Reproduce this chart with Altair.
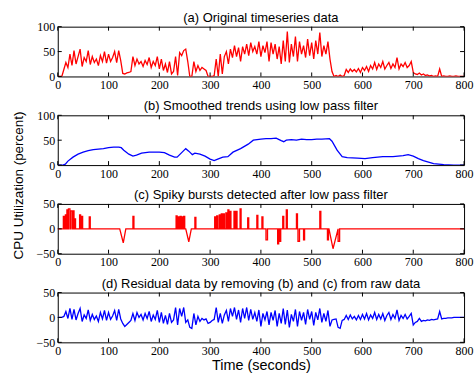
import altair as alt
import pandas as pd

# ---------------- data ----------------
# (a) raw CPU utilisation, one reading every 4 s from 0 to 800 s
a_step = 4
a_values = [
    0, 0, 0, 14, 28, 18, 45, 22, 52, 25, 40, 55, 20, 38, 30, 52, 24, 40, 28, 35, 22, 42, 30, 50, 27,
    45, 30, 38, 50, 28, 52, 32, 6, 5, 7, 8, 10, 40, 22, 35, 25, 30, 20, 32, 24, 38, 18, 30, 22, 40,
    15, 35, 12, 25, 8, 30, 5, 10, 40, 2, 48, 42, 52, 55, 30, 0, 0, 30, 10, 22, 12, 18, 15, 12, 0,
    0, 0, 2, 35, 0, 45, 5, 40, 50, 25, 55, 38, 62, 40, 58, 30, 60, 45, 65, 42, 68, 50, 60, 45, 70,
    40, 62, 48, 70, 30, 68, 45, 65, 35, 60, 25, 72, 30, 90, 28, 65, 40, 80, 30, 70, 45, 62, 38, 75, 42,
    68, 35, 72, 45, 88, 40, 62, 45, 70, 35, 10, 0, 2, 0, 3, 0, 2, 14, 8, 15, 10, 14, 9, 16, 8,
    18, 12, 20, 10, 22, 15, 28, 14, 25, 18, 30, 15, 22, 28, 16, 25, 18, 38, 15, 25, 20, 28, 18, 22, 30,
    8, 5, 4, 7, 3, 5, 2, 3, 1, 2, 0, 1, 0, 15, 0, 1, 0, 0, 1, 0, 0, 1, 0, 0, 0,
    0,
]

# (b) smoothed trend
b_times = [0, 10, 15, 20, 30, 40, 50, 60, 70, 80, 90, 100, 110, 120, 125, 130, 140, 148, 155, 165,
           180, 200, 210, 220, 230, 235, 245, 252, 258, 265, 270, 280, 290, 300, 308, 315, 325, 335,
           345, 360, 375, 385, 400, 410, 420, 430, 440, 445, 450, 460, 470, 480, 490, 500, 510, 520,
           535, 540, 550, 560, 570, 590, 605, 620, 640, 660, 680, 690, 700, 710, 720, 730, 740, 750,
           760, 780, 800]
b_values = [0, 0, 2, 8, 16, 22, 26, 29, 31, 32, 33, 35, 36, 36, 35, 30, 22, 18, 20, 24,
            26, 26, 25, 20, 16, 16, 26, 33, 28, 21, 24, 22, 18, 12, 9, 12, 16, 17,
            26, 33, 42, 50, 52, 53, 53, 54, 49, 47, 50, 51, 50, 52, 51, 51, 52, 52,
            53, 48, 30, 17, 15, 14, 13, 15, 17, 17, 19, 21, 18, 13, 9, 6, 3, 2,
            1, 0, 0]

# (c) spiky bursts: flat pulses (start, end, value) and V-shaped dips (start, bottom, end, value)
pulse_start = [11, 15, 18, 21, 26, 31, 33, 43, 47, 62, 148, 233, 237, 241, 245, 248, 270,
               309, 313, 318, 322, 326, 331, 335, 339, 347, 351, 359, 374, 392, 402, 410,
               433, 437, 443, 450, 470, 473, 484, 516, 531, 552]
pulse_end = [13, 17, 20, 24, 29, 32, 35, 45, 49, 64, 150, 235, 239, 243, 247, 250, 272,
             311, 315, 320, 324, 328, 333, 337, 341, 349, 353, 361, 376, 394, 404, 413,
             435, 439, 445, 452, 472, 476, 486, 518, 533, 555]
pulse_value = [25, 28, 38, 40, 36, 36, 20, 28, 25, 24, 25, 26, 24, 25, 24, 25, 23,
               24, 26, 28, 30, 30, 32, 38, 35, 35, 35, 40, 22, 27, 24, -22,
               -30, -25, 25, 38, 30, -25, -22, 35, -22, -25]
dip_start = [122, 252, 534]
dip_bottom = [129, 258, 542]
dip_end = [134, 263, 552]
dip_value = [-28, -26, -40]

# (d) residual, one reading every 4 s
d_values = [
    0, 0, 0, 2, 12, -2, 18, -4, 16, -5, 8, 18, -8, 5, -2, 15, -6, 6, -4, 3, -8, 10, -3, 14, -6,
    10, -4, 3, 14, -6, 16, -3, -12, -18, -14, -10, -6, 8, -6, 10, 0, 6, -5, 8, -2, 12, -8, 5, -4, 14,
    -10, 10, -12, 4, -14, 8, -10, -5, 20, -15, 18, 2, 20, -10, -5, -20, -22, 8, -15, 2, -8, -2, -5, -3, -12,
    -10, -6, -4, 20, -10, 8, -12, 5, 14, -8, 18, 2, 20, -4, 15, -10, 18, -2, 20, -6, 16, -4, 10, -8, 15,
    -18, 8, -5, 12, -15, 10, -6, 14, -18, 8, -12, 18, -14, 15, -20, 6, -8, 16, -18, 12, -6, 10, -14, 16, -4,
    12, -16, 10, -5, 18, -10, 8, -8, 14, -18, -5, -4, -3, -20, -22, -6, -4, 4, -4, 5, -3, 2, -5, 4, -4,
    6, -3, 8, -5, 5, -2, 10, -4, 6, -3, 8, -6, 4, 10, -4, 6, -2, 15, -6, 4, -2, 6, -3, 2, 8,
    -15, -10, -8, -2, -8, -6, -7, -5, -6, -4, -5, -4, -3, 12, -3, -2, -2, -1, -1, -1, 0, 0, 0, 0, 0,
    0,
]

x_ticks = [0, 100, 200, 300, 400, 500, 600, 700, 800]
y_ticks_pos = [0, 50, 100]
y_ticks_sym = [-50, 0, 50]
titles = [
    "(a) Original timeseries data",
    "(b) Smoothed trends using low pass filter",
    "(c) Spiky bursts detected after low pass filter",
    "(d) Residual data by removing (b) and (c) from raw data",
]
y_title = "CPU Utilization (percent)"
x_title = "Time (seconds)"

# ---------------- tables ----------------
df_a = pd.DataFrame({"t": [i * a_step for i in range(len(a_values))], "v": a_values})
df_d = pd.DataFrame({"t": [i * a_step for i in range(len(d_values))], "v": d_values})
df_b = pd.DataFrame({"t": b_times, "v": b_values})

events = []
for s, e, v in zip(pulse_start, pulse_end, pulse_value):
    events.append((s, [(s, 0), (s, v), (e, v), (e, 0)]))
for s, m, e, v in zip(dip_start, dip_bottom, dip_end, dip_value):
    events.append((s, [(s, 0), (m, v), (e, 0)]))
events.sort(key=lambda ev: ev[0])
c_pts = [(0, 0)]
for _, pts in events:
    c_pts.extend(pts)
c_pts.append((800, 0))
df_c = pd.DataFrame({"t": [p[0] for p in c_pts], "v": [p[1] for p in c_pts],
                     "o": list(range(len(c_pts)))})

W, H = 408, 50
SERIF = "Liberation Serif"
SANS = "Liberation Sans"


def panel(df, color, ydomain, yvals, title, ytitle=None, xtitle=None, order=False):
    x_axis = alt.Axis(values=x_ticks, title=xtitle if xtitle else None, grid=False,
                      ticks=False, tickSize=0, domain=False, labelFlush=False, labelPadding=3,
                      titlePadding=2, format="d", labelFont=SERIF, labelFontSize=12,
                      labelColor="black", titleFont=SANS, titleFontSize=14.5,
                      titleFontWeight="normal", titleColor="black")
    yopts = dict(values=yvals, grid=False, ticks=False, tickSize=0, domain=False,
                 labelPadding=3, format="d", labelFont=SERIF, labelFontSize=12,
                 labelColor="black")
    if ytitle:
        y_axis = alt.Axis(title=ytitle, titleX=-32, titleY=70, titleAngle=270,
                          titleAlign="center", titleBaseline="bottom", titleFont=SANS,
                          titleFontSize=13.5, titleFontWeight="normal", titleColor="black",
                          **yopts)
    else:
        y_axis = alt.Axis(title=None, **yopts)
    xs = alt.Scale(domain=[0, 800], nice=False)
    ys = alt.Scale(domain=ydomain, nice=False)
    enc = dict(x=alt.X("t:Q", scale=xs, axis=x_axis), y=alt.Y("v:Q", scale=ys, axis=y_axis))
    if order:
        enc["order"] = alt.Order("o:Q")
    line = alt.Chart(df).mark_line(color=color, strokeWidth=1.3, clip=True).encode(**enc)

    xt = pd.DataFrame({"t": x_ticks})
    yt = pd.DataFrame({"v": yvals})
    xb = alt.Chart(xt).mark_rule(color="black", strokeWidth=1).encode(
        x=alt.X("t:Q", scale=xs, axis=x_axis), y=alt.value(H), y2=alt.value(H - 4))
    xtp = alt.Chart(xt).mark_rule(color="black", strokeWidth=1).encode(
        x=alt.X("t:Q", scale=xs, axis=x_axis), y=alt.value(0), y2=alt.value(4))
    yl = alt.Chart(yt).mark_rule(color="black", strokeWidth=1).encode(
        y=alt.Y("v:Q", scale=ys, axis=y_axis), x=alt.value(0), x2=alt.value(4))
    yr = alt.Chart(yt).mark_rule(color="black", strokeWidth=1).encode(
        y=alt.Y("v:Q", scale=ys, axis=y_axis), x=alt.value(W), x2=alt.value(W - 4))
    return alt.layer(line, xb, xtp, yl, yr).properties(
        width=W, height=H,
        title=alt.TitleParams(title, fontSize=13, font=SANS, frame="group",
                              fontWeight="normal", offset=-4, color="black", anchor="middle"),
    )


pa = panel(df_a, "#ff0000", [0, 100], y_ticks_pos, titles[0])
pb = panel(df_b, "#0000ff", [0, 100], y_ticks_pos, titles[1], ytitle=y_title)
pc = panel(df_c, "#ff0000", [-50, 50], y_ticks_sym, titles[2], order=True)
pd_ = panel(df_d, "#0000ff", [-50, 50], y_ticks_sym, titles[3], xtitle=x_title)

chart = alt.vconcat(pa, pb, pc, pd_, spacing=39, bounds="flush").properties(
    padding={"left": 11, "top": 10, "right": 2, "bottom": 0},
    background="white",
).configure_view(
    stroke="black", strokeWidth=1
)

chart.save("out.html", embed_options={"renderer": "svg", "actions": False})
